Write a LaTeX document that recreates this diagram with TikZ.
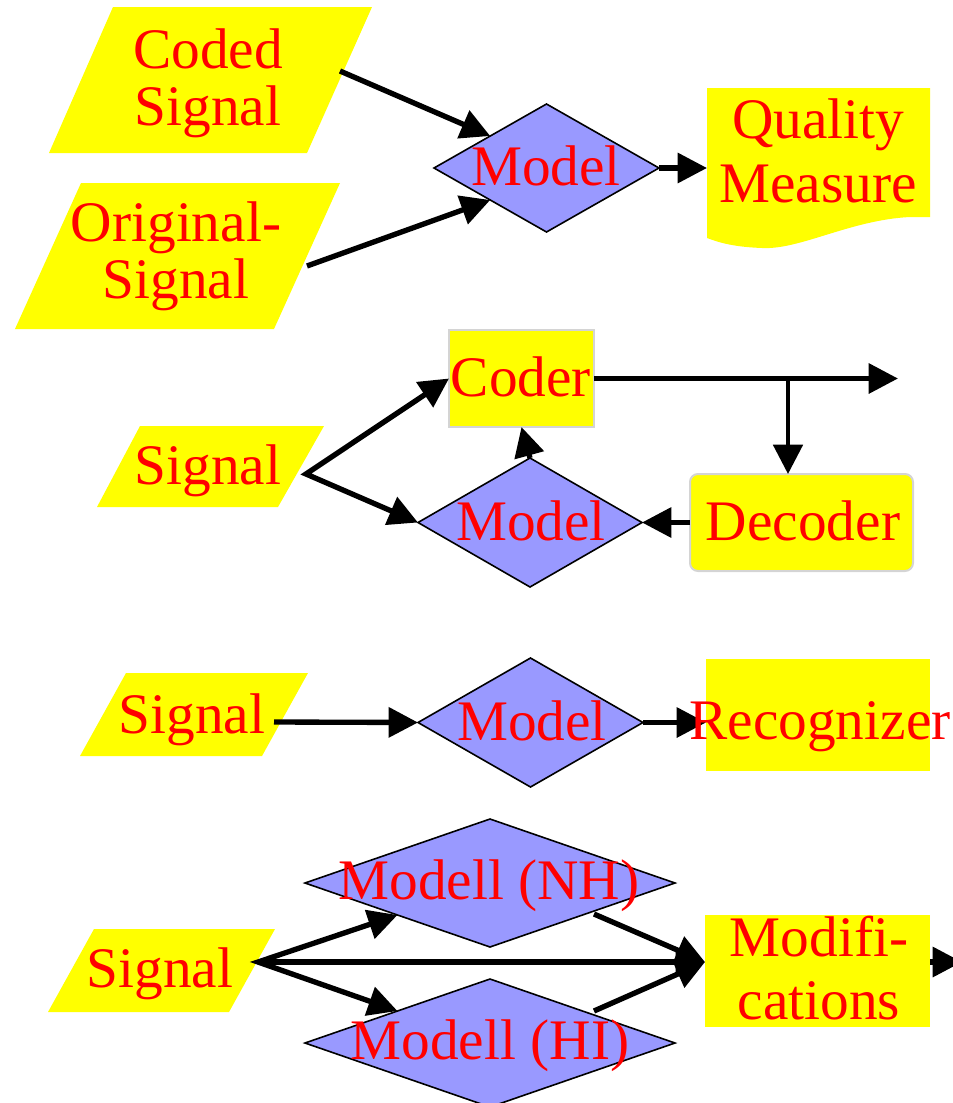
\documentclass[tikz,border=0pt]{standalone}
\usepackage{fontspec}
\setmainfont{Liberation Serif}
\usetikzlibrary{arrows.meta,shapes.geometric}
\definecolor{yel}{HTML}{FFFF00}
\definecolor{lav}{HTML}{9999FF}
\definecolor{txtred}{HTML}{FF0000}
\definecolor{edgegray}{HTML}{D4D4D4}
\begin{document}
\begin{tikzpicture}[x=0.75pt,y=-0.75pt,
  lbl/.style={text=txtred, font=\fontsize{43}{43}\selectfont, inner sep=0pt, align=center},
  para/.style={fill=yel},
  dia/.style={diamond, draw=black, line width=1.2pt, fill=lav, inner sep=0pt, outer sep=0pt},
  box/.style={rectangle, fill=yel, inner sep=0pt, outer sep=0pt},
  arr/.style={line width=4pt, -{Triangle[length=22pt,width=22pt]}},
  arrtwo/.style={line width=4pt, {Triangle[length=22pt,width=22pt]}-{Triangle[length=22pt,width=22pt]}},
]
\useasboundingbox (0,0) rectangle (953,1103);

% ---------- panel 1 ----------
\fill[para] (113,7) -- (372,7) -- (307,153) -- (49,153) -- cycle;
\fill[para] (81,183) -- (340,183) -- (274,329) -- (15,329) -- cycle;
\coordinate (cs) at (340,71);
\coordinate (os) at (307,266);
\node[dia, minimum width=168.75pt, minimum height=96pt] (m1) at (546.5,168) {};
\fill[yel] (707,88) -- (930,88) -- (930,217) -- (910,217)
  .. controls (850,220) and (800,250) .. (762,248)
  .. controls (735,247) and (720,243) .. (707,238) -- cycle;
\coordinate (qm) at (707,168);
\draw[arr] (cs) -- (m1.north west);
\draw[arr] (os) -- (m1.south west);
\draw[arr] (m1.east) -- (qm);
\node[lbl] (tcoded) at (208,83) {Coded\\Signal};
\node[lbl] (torig) at (176,256.5) {Original-\\Signal};
\node[lbl] (tm1) at (546,165.5) {Model};
\node[lbl, font=\fontsize{43}{48}\selectfont] (tqm) at (818,151) {Quality\\Measure};

% ---------- panel 2 ----------
\fill[para] (140,426) -- (324,426) -- (278,507) -- (97,507) -- cycle;
\coordinate (s2) at (306,474);
\node[box, draw=edgegray, line width=1.5pt, minimum width=108.75pt, minimum height=72.75pt] (coder) at (521.5,378.5) {};
\node[dia, minimum width=168pt, minimum height=96.75pt] (m2) at (530,522.5) {};
\node[box, draw=edgegray, line width=1.5pt, rounded corners=6pt, minimum width=167.25pt, minimum height=72.75pt] (dec) at (801.5,522.5) {};
\coordinate (out2) at (898,378.5);
\coordinate (br2) at (788,378.5);
\draw[arrtwo] (coder.west) -- (s2) -- (m2.west);
\draw[arr] (m2.north) -- (coder.south);
\draw[arr] (coder.east) -- (out2);
\draw[arr, line width=3pt] (br2) -- (br2 |- dec.north);
\draw[arr] (dec.west) -- (m2.east);
\node[lbl] (ts2) at (208,470.5) {Signal};
\node[lbl] (tcoder) at (521,376.5) {Coder};
\node[lbl] (tm2) at (531,520.5) {Model};
\node[lbl] (tdec) at (803,520.5) {Decoder};

% ---------- panel 3 ----------
\fill[para] (126,673) -- (308,673) -- (262,756) -- (80,756) -- cycle;
\coordinate (s3) at (274,722);
\node[dia, minimum width=168.75pt, minimum height=96.75pt] (m3) at (530.5,722.5) {};
\node[box, minimum width=168pt, minimum height=84pt] (rec) at (818,715) {};
\draw[arr] (s3) -- (m3.west);
\draw[arr] (m3.east) -- (rec.west |- m3.east);
\node[lbl] (ts3) at (192,719.5) {Signal};
\node[lbl] (tm3) at (532,720.5) {Model};
\node[lbl] (trec) at (820,726.5) {Recognizer};

% ---------- panel 4 ----------
\fill[para] (94,929) -- (275,929) -- (229,1012) -- (48,1012) -- cycle;
\coordinate (s4) at (258,962);
\node[dia, minimum width=277.5pt, minimum height=96pt] (nh) at (490,883) {};
\node[dia, minimum width=277.5pt, minimum height=96pt] (hi) at (490,1043) {};
\node[box, minimum width=168.75pt, minimum height=84pt] (mod) at (817.5,971) {};
\coordinate (nho) at (594,914);
\coordinate (hio) at (594,1011);
\coordinate (out4) at (962,962);
\draw[arrtwo] (nh.south west) -- (s4) -- (hi.north west);
\draw[arr] (s4) -- (mod.west |- s4);
\draw[arr] (nho) -- (mod.west |- s4);
\draw[arr] (hio) -- (mod.west |- s4);
\draw[arr] (mod.east |- s4) -- (out4);
\node[lbl] (ts4) at (160,973.5) {Signal};
\node[lbl] (tnh) at (489,886) {Modell (NH)};
\node[lbl] (thi) at (490,1046) {Modell (HI)};
\node[lbl, font=\fontsize{43}{47}\selectfont] (tmod) at (819,968) {Modifi-\\cations};
\end{tikzpicture}
\end{document}
